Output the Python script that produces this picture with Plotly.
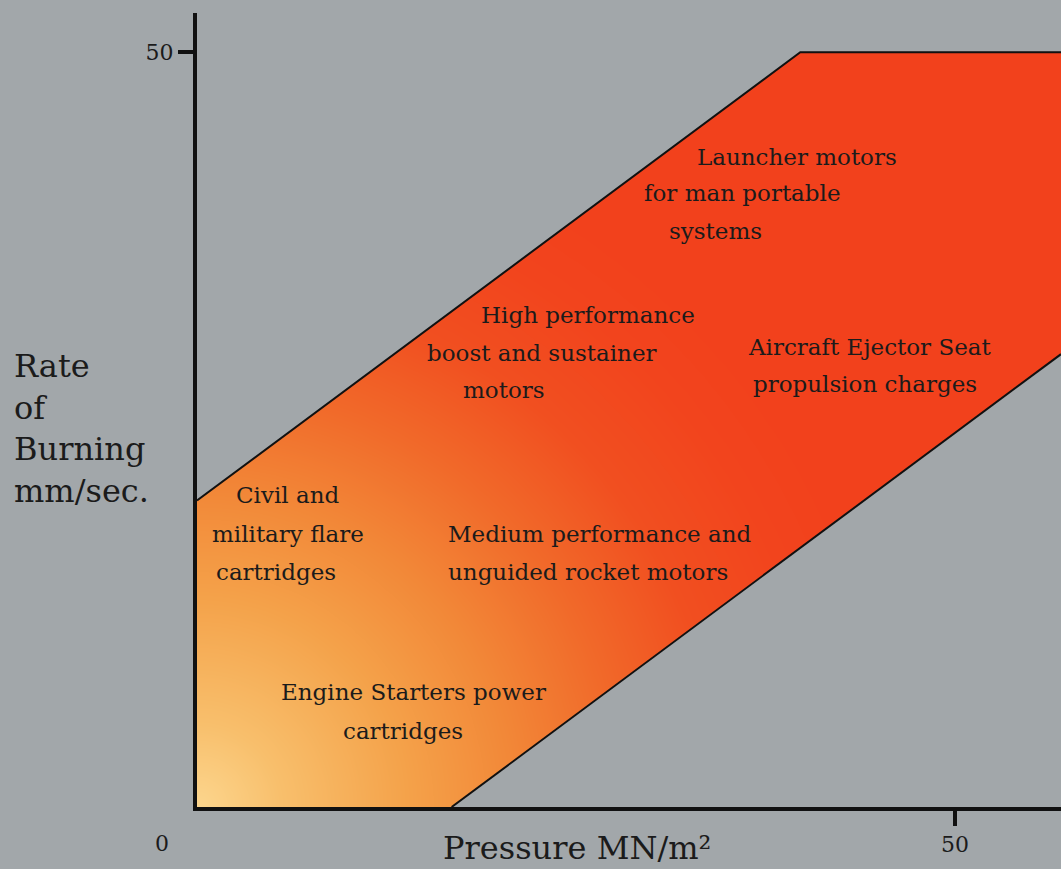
import numpy as np
import plotly.graph_objects as go

# ---- data ----
# boundary of the shaded band, pressure (MN/m2) vs rate of burning (mm/sec)
upper_pressure = [0, 39.8, 57.0]
upper_rate = [20.3, 50.0, 50.0]
lower_pressure = [0, 16.8, 57.0]
lower_rate = [0, 0, 30.0]

x_ticks = [50]
y_ticks = [50]

# application labels (one entry per text line) and their positions on the chart
label_lines = [
    "Launcher motors", "for man portable", "systems",
    "High performance", "boost and sustainer", "motors",
    "Aircraft Ejector Seat", "propulsion charges",
    "Civil and", "military flare", "cartridges",
    "Medium performance and", "unguided rocket motors",
    "Engine Starters power", "cartridges",
]
label_x = [39.6, 36.0, 34.2, 25.8, 22.7, 20.25, 44.4, 44.1, 6.0, 6.0, 5.2, 26.6, 25.8, 14.25, 13.6]
label_y = [43.05, 40.66, 38.15, 32.58, 30.07, 27.62, 30.46, 28.01, 20.66, 18.08, 15.56, 18.08, 15.56, 7.62, 5.03]

X_MAX = 57.0
Y_MAX = 52.6
BG = "#a2a7aa"
INK = "#1b1b1b"
FONT = "DejaVu Serif"

fig = go.Figure()

# colour gradient (light at origin, deepening to red) drawn as a smooth heatmap
gx = np.linspace(0, X_MAX, 115)
gy = np.linspace(0, 50, 101)
GX, GY = np.meshgrid(gx, gy)
dist = np.clip(np.hypot(GX * 15.16, GY * 15.1) / 700.0, 0, 1)
colorscale = [
    [0.0, "#fcd68e"],
    [0.12, "#f8bf6c"],
    [0.30, "#f4a24a"],
    [0.45, "#f28838"],
    [0.60, "#f16a2a"],
    [0.75, "#f14f20"],
    [0.90, "#f2441d"],
    [1.0, "#f2411c"],
]
fig.add_trace(go.Heatmap(x=gx, y=gy, z=dist, colorscale=colorscale, zmin=0, zmax=1,
                         zsmooth="best", showscale=False, hoverinfo="skip"))

# masks outside the band (background colour)
mask_top_x = upper_pressure + [X_MAX + 1, X_MAX + 1, -1, -1]
mask_top_y = upper_rate + [upper_rate[-1], Y_MAX + 1, Y_MAX + 1, upper_rate[0]]
fig.add_trace(go.Scatter(x=mask_top_x, y=mask_top_y, fill="toself", fillcolor=BG,
                         mode="lines", line=dict(width=0), hoverinfo="skip", showlegend=False))
mask_bot_x = [lower_pressure[1], lower_pressure[2], X_MAX + 1, X_MAX + 1, lower_pressure[1]]
mask_bot_y = [lower_rate[1], lower_rate[2], lower_rate[2], -2, -2]
fig.add_trace(go.Scatter(x=mask_bot_x, y=mask_bot_y, fill="toself",
                         fillcolor=BG, mode="lines", line=dict(width=0),
                         hoverinfo="skip", showlegend=False))

# outlines of the band
fig.add_trace(go.Scatter(x=upper_pressure, y=upper_rate, mode="lines",
                         line=dict(color="#111111", width=2), hoverinfo="skip", showlegend=False))
fig.add_trace(go.Scatter(x=lower_pressure[1:], y=lower_rate[1:], mode="lines",
                         line=dict(color="#111111", width=2), hoverinfo="skip", showlegend=False))

annotations = []
for t, x, y in zip(label_lines, label_x, label_y):
    annotations.append(dict(x=x, y=y, xref="x", yref="y", text=t, showarrow=False,
                            xanchor="center", yanchor="middle",
                            font=dict(family=FONT, size=23, color=INK)))

# origin label
annotations.append(dict(x=0, y=0, xref="x", yref="y", text="0", showarrow=False,
                        xshift=-35, yshift=-36, font=dict(family=FONT, size=22, color=INK)))
# axis titles
annotations.append(dict(x=-0.2141, y=0.4767, xref="paper", yref="paper",
                        text="Rate<br>of<br>Burning<br>mm/sec.", showarrow=False,
                        xanchor="left", yanchor="middle", align="left",
                        font=dict(family=FONT, size=32, color=INK)))
annotations.append(dict(x=0.4398, y=-0.0516, xref="paper", yref="paper",
                        text="Pressure MN/m²", showarrow=False,
                        xanchor="center", yanchor="middle",
                        font=dict(family=FONT, size=32, color=INK)))

fig.update_layout(
    width=1061, height=869,
    margin=dict(l=197, r=0, t=13, b=62),
    paper_bgcolor=BG, plot_bgcolor=BG,
    showlegend=False,
    annotations=annotations,
    xaxis=dict(range=[0, X_MAX], showgrid=False, zeroline=False, showline=True,
               linecolor="#111111", linewidth=4, ticks="outside", ticklen=15,
               tickwidth=4, tickcolor="#111111", tickvals=x_ticks,
               tickfont=dict(family=FONT, size=22, color=INK), fixedrange=True),
    yaxis=dict(range=[0, Y_MAX], showgrid=False, zeroline=False, showline=True,
               linecolor="#111111", linewidth=4, ticks="outside", ticklen=15,
               tickwidth=4, tickcolor="#111111", tickvals=y_ticks,
               tickfont=dict(family=FONT, size=22, color=INK), fixedrange=True),
)

fig.write_html("out.html", config={"displayModeBar": False},
               post_script="document.body.style.margin='0';document.body.style.background='" + BG + "';")
